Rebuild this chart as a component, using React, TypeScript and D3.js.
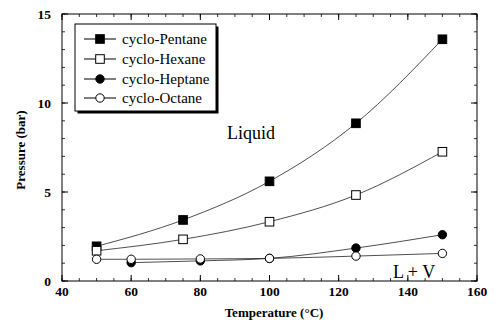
import React from "react";
import * as d3 from "d3";

// temperatures (°C) and vapour pressures (bar)
const pentaneT = [50, 75, 100, 125, 150];
const pentaneP = [1.95, 3.43, 5.6, 8.86, 13.58];
const hexaneT = [50, 75, 100, 125, 150];
const hexaneP = [1.7, 2.34, 3.33, 4.83, 7.26];
const heptaneT = [60, 80, 100, 125, 150];
const heptaneP = [1.03, 1.13, 1.27, 1.85, 2.6];
const octaneT = [50, 60, 80, 100, 125, 150];
const octaneP = [1.22, 1.22, 1.24, 1.27, 1.4, 1.55];

const seriesNames = ["cyclo-Pentane", "cyclo-Hexane", "cyclo-Heptane", "cyclo-Octane"];
const xTickLabels = [40, 60, 80, 100, 120, 140, 160];
const yTickLabels = [0, 5, 10, 15];

const W = 495;
const H = 325;
const left = 62,
  right = 477,
  top = 14,
  bottom = 281;
const font = "'Liberation Serif', 'Times New Roman', serif";

const series = [
  { name: seriesNames[0], t: pentaneT, p: pentaneP, shape: "square", filled: true },
  { name: seriesNames[1], t: hexaneT, p: hexaneP, shape: "square", filled: false },
  { name: seriesNames[2], t: heptaneT, p: heptaneP, shape: "circle", filled: true },
  { name: seriesNames[3], t: octaneT, p: octaneP, shape: "circle", filled: false },
];

function Marker({ x, y, shape, filled }) {
  const fill = filled ? "#000" : "#fff";
  if (shape === "square") {
    return <rect x={x - 4.3} y={y - 4.3} width={8.6} height={8.6} fill={fill} stroke="#000" strokeWidth={1} />;
  }
  return <circle cx={x} cy={y} r={4.2} fill={fill} stroke="#000" strokeWidth={1} />;
}

export default function App() {
  const x = d3.scaleLinear().domain([40, 160]).range([left, right]);
  const y = d3.scaleLinear().domain([0, 15]).range([bottom, top]);

  const line = d3
    .line<[number, number]>()
    .x((d) => x(d[0]))
    .y((d) => y(d[1]))
    .curve(d3.curveMonotoneX);

  const xMinor = d3.range(40, 161, 5);
  const yMinor = d3.range(0, 15.01, 1);

  // legend box
  const lg = { x: 75, y: 24, w: 141, h: 87 };
  const rowY = [39, 59, 79, 98];

  return (
    <svg width={W} height={H} style={{ position: "absolute", left: 0, top: 0, background: "#fff" }}>
      <rect width={W} height={H} fill="#fff" />

      {/* minor ticks */}
      {xMinor.map((v) => (
        <g key={"xm" + v} stroke="#000" strokeWidth={0.8}>
          <line x1={x(v)} x2={x(v)} y1={bottom} y2={bottom - 3} />
          <line x1={x(v)} x2={x(v)} y1={top} y2={top + 3} />
        </g>
      ))}
      {yMinor.map((v) => (
        <g key={"ym" + v} stroke="#000" strokeWidth={0.8}>
          <line x1={left} x2={left + 3} y1={y(v)} y2={y(v)} />
          <line x1={right} x2={right - 3} y1={y(v)} y2={y(v)} />
        </g>
      ))}
      {/* major ticks */}
      {xTickLabels.map((v) => (
        <g key={"xM" + v} stroke="#000" strokeWidth={1}>
          <line x1={x(v)} x2={x(v)} y1={bottom} y2={bottom - 6} />
          <line x1={x(v)} x2={x(v)} y1={top} y2={top + 6} />
        </g>
      ))}
      {yTickLabels.map((v) => (
        <g key={"yM" + v} stroke="#000" strokeWidth={1}>
          <line x1={left} x2={left + 6} y1={y(v)} y2={y(v)} />
          <line x1={right} x2={right - 6} y1={y(v)} y2={y(v)} />
        </g>
      ))}

      <rect x={left} y={top} width={right - left} height={bottom - top} fill="none" stroke="#000" strokeWidth={1} />

      {/* tick labels */}
      {xTickLabels.map((v) => (
        <text key={"xl" + v} x={x(v)} y={296} textAnchor="middle" fontFamily={font} fontWeight="bold" fontSize={13.5}>
          {v}
        </text>
      ))}
      {yTickLabels.map((v) => (
        <text key={"yl" + v} x={51} y={y(v) + 4.5} textAnchor="end" fontFamily={font} fontWeight="bold" fontSize={13.5}>
          {v}
        </text>
      ))}

      <text x={274} y={317} textAnchor="middle" fontFamily={font} fontWeight="bold" fontSize={13}>
        Temperature (°C)
      </text>
      <text
        transform={`translate(25,150) rotate(-90)`}
        textAnchor="middle"
        fontFamily={font}
        fontWeight="bold"
        fontSize={13}
      >
        Pressure (bar)
      </text>

      {/* curves */}
      {series.map((s) => (
        <path
          key={"l" + s.name}
          d={line(s.t.map((t, i) => [t, s.p[i]]) as [number, number][]) || ""}
          fill="none"
          stroke="#222"
          strokeWidth={0.8}
        />
      ))}
      {series.map((s) =>
        s.t.map((t, i) => <Marker key={s.name + t} x={x(t)} y={y(s.p[i])} shape={s.shape} filled={s.filled} />)
      )}

      <text x={227} y={139} fontFamily={font} fontSize={18}>
        Liquid
      </text>
      <text x={393} y={278} fontFamily={font} fontSize={18}>
        L + V
      </text>

      {/* legend */}
      <rect x={lg.x + 2.5} y={lg.y + 2.5} width={lg.w} height={lg.h} fill="#000" />
      <rect x={lg.x} y={lg.y} width={lg.w} height={lg.h} fill="#fff" stroke="#000" strokeWidth={1} />
      {series.map((s, i) => (
        <g key={"lg" + s.name}>
          <line x1={84} x2={116} y1={rowY[i]} y2={rowY[i]} stroke="#000" strokeWidth={1} />
          <Marker x={100} y={rowY[i]} shape={s.shape} filled={s.filled} />
          <text x={122} y={rowY[i] + 5} fontFamily={font} fontSize={15}>
            {s.name}
          </text>
        </g>
      ))}
    </svg>
  );
}
